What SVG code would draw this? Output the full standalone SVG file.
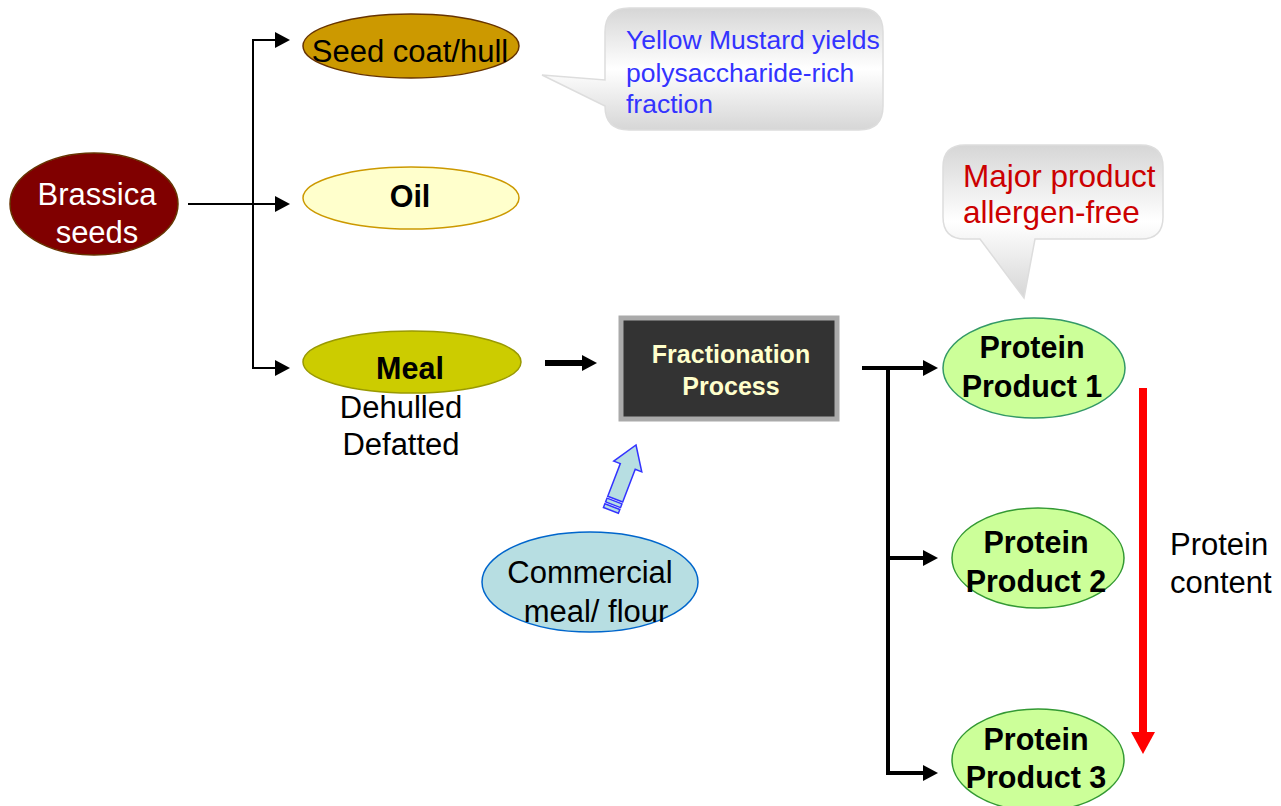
<svg xmlns="http://www.w3.org/2000/svg" width="1281" height="806" viewBox="0 0 1281 806">
<style>
text{font-family:"Liberation Sans",Arial,sans-serif;font-size:31px;text-anchor:middle;fill:#000}
.b{font-weight:bold;font-size:30.5px}
.thin{stroke:#000;stroke-width:2;fill:none}
.thick{stroke:#000;stroke-width:4;fill:none}
.call{fill:url(#cg);stroke:#DDDDDD;stroke-width:1.5}
</style>
<defs>
<marker id="ah" markerUnits="userSpaceOnUse" markerWidth="16" markerHeight="18" viewBox="0 0 16 18" refX="1" refY="9" orient="auto"><path d="M0,1 L15,9 L0,17 Z" fill="#000"/></marker>
<linearGradient id="cg" x1="0" y1="0" x2="0" y2="1"><stop offset="0" stop-color="#D6D6D6"/><stop offset="0.5" stop-color="#FFFFFF"/><stop offset="1" stop-color="#D6D6D6"/></linearGradient>
</defs>

<g id="connectors">
<line class="thin" x1="188" y1="204" x2="276" y2="204" marker-end="url(#ah)"/>
<polyline class="thin" points="276,40 253,40 253,368 276,368" marker-end="url(#ah)"/>
<line class="thin" x1="253" y1="40" x2="276" y2="40" marker-end="url(#ah)"/>
<line x1="545" y1="363" x2="583" y2="363" stroke="#000" stroke-width="6" marker-end="url(#ah)"/>
<line class="thick" x1="862" y1="368" x2="924" y2="368" marker-end="url(#ah)"/>
<polyline class="thick" points="888,368 888,773 924,773" marker-end="url(#ah)"/>
<line class="thick" x1="888" y1="558" x2="924" y2="558" marker-end="url(#ah)"/>
<g id="protein-arrow">
<rect x="1139" y="388" width="8" height="346" fill="#FF0000"/>
<polygon points="1131,732 1155,732 1143,754" fill="#FF0000"/>
</g>
<g id="block-arrow" transform="translate(636,445) rotate(21)" fill="#B7DEE2" stroke="#3333FF" stroke-width="1.5">
<path d="M0,0 L15,23 L8,23 L8,58 L-8,58 L-8,23 L-15,23 Z"/>
<rect x="-8" y="60" width="16" height="4"/>
<rect x="-8" y="66" width="16" height="4"/>
</g>
</g>

<g id="brassica">
<ellipse cx="94" cy="204" rx="84" ry="51" fill="#800000" stroke="#663300" stroke-width="1.5"/>
<text x="97" y="205" style="fill:#fff">Brassica</text>
<text x="97" y="243" style="fill:#fff">seeds</text>
</g>

<g id="seedcoat">
<ellipse cx="411" cy="46" rx="108" ry="32" fill="#CC9900" stroke="#663300" stroke-width="1.5"/>
<text x="410" y="62">Seed coat/hull</text>
</g>

<g id="oil">
<ellipse cx="411" cy="198" rx="108" ry="31" fill="#FFFFCC" stroke="#CC9900" stroke-width="1.5"/>
<text class="b" x="410" y="207">Oil</text>
</g>

<g id="meal">
<ellipse cx="412" cy="362" rx="109" ry="31" fill="#CCCC00" stroke="#999900" stroke-width="1.5"/>
<text class="b" x="410" y="379">Meal</text>
<text x="401" y="418">Dehulled</text>
<text x="401" y="455">Defatted</text>
</g>

<g id="fractionation">
<rect x="621" y="318" width="216" height="101" fill="#333333" stroke="#AAAAAA" stroke-width="5"/>
<text class="b" x="731" y="363" style="font-size:25px;fill:#FFFFCC">Fractionation</text>
<text class="b" x="731" y="395" style="font-size:25px;fill:#FFFFCC">Process</text>
</g>

<g id="commercial">
<ellipse cx="590" cy="582" rx="108" ry="50" fill="#B7DEE2" stroke="#0066CC" stroke-width="1.5"/>
<text x="590" y="583">Commercial</text>
<text x="596" y="622">meal/ flour</text>
</g>

<g id="callout-mustard">
<path class="call" d="M629,8 H859 Q883,8 883,32 V106 Q883,130 859,130 H629 Q605,130 605,106 L542,75 L605,80 V32 Q605,8 629,8 Z"/>
<text x="626" y="49" style="font-size:26.5px;fill:#3333FF;text-anchor:start">Yellow Mustard yields</text>
<text x="626" y="82" style="font-size:26.5px;fill:#3333FF;text-anchor:start">polysaccharide-rich</text>
<text x="626" y="113" style="font-size:26.5px;fill:#3333FF;text-anchor:start">fraction</text>
</g>

<g id="callout-major">
<path class="call" d="M965,145 H1141 Q1163,145 1163,167 V217 Q1163,239 1141,239 H1035 L1024,298 L980,239 H965 Q943,239 943,217 V167 Q943,145 965,145 Z"/>
<text x="963" y="187" style="font-size:31.5px;fill:#CC0000;text-anchor:start">Major product</text>
<text x="963" y="223" style="font-size:31.5px;fill:#CC0000;text-anchor:start">allergen-free</text>
</g>

<g id="pp1">
<ellipse cx="1034" cy="368" rx="91" ry="50" fill="#CCFF99" stroke="#339966" stroke-width="1.5"/>
<text class="b" x="1032" y="358">Protein</text>
<text class="b" x="1032" y="397">Product 1</text>
</g>

<g id="pp2">
<ellipse cx="1038" cy="558" rx="86" ry="50" fill="#CCFF99" stroke="#339933" stroke-width="1.5"/>
<text class="b" x="1036" y="553">Protein</text>
<text class="b" x="1036" y="592">Product 2</text>
</g>

<g id="pp3">
<ellipse cx="1038" cy="760" rx="86" ry="51" fill="#CCFF99" stroke="#339933" stroke-width="1.5"/>
<text class="b" x="1036" y="750">Protein</text>
<text class="b" x="1036" y="788">Product 3</text>
</g>

<g id="protein-content">
<text x="1170" y="555" style="text-anchor:start">Protein</text>
<text x="1170" y="593" style="text-anchor:start">content</text>
</g>
</svg>
